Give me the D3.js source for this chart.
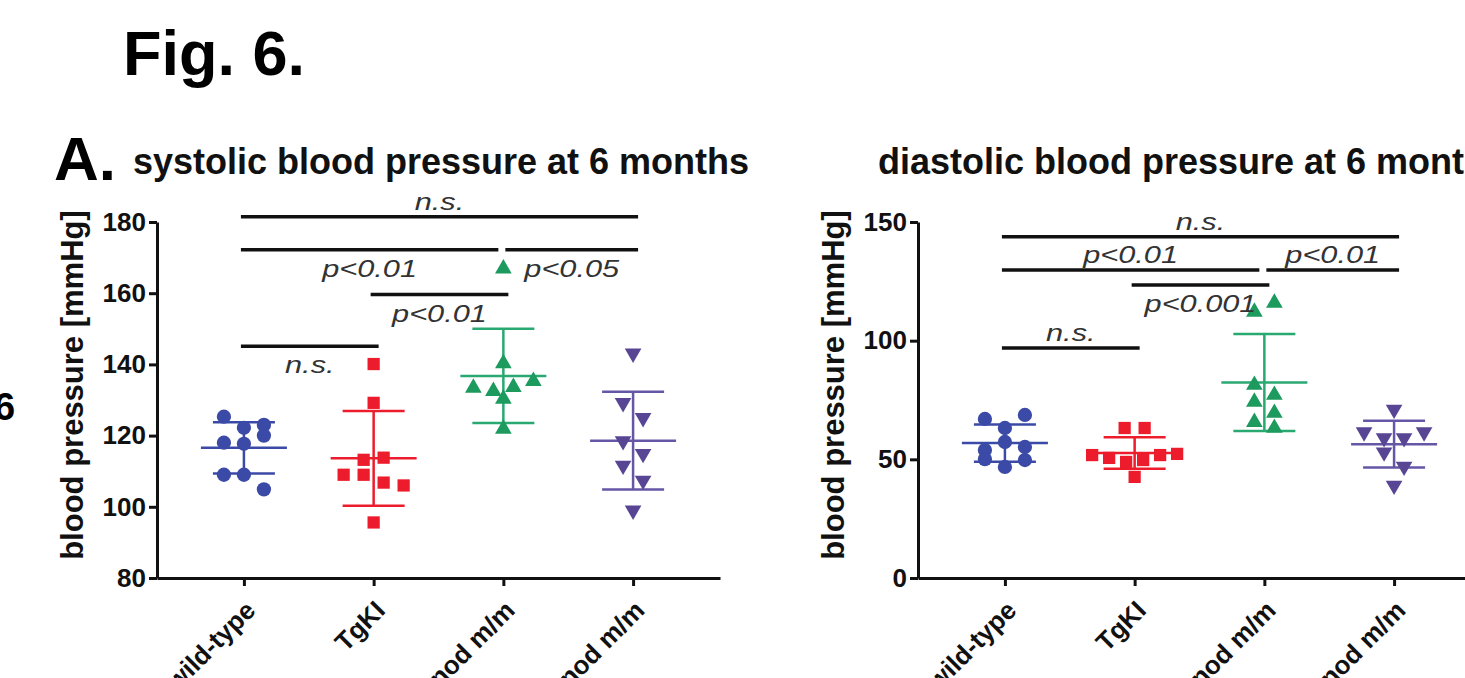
<!DOCTYPE html>
<html><head><meta charset="utf-8">
<script src="https://cdn.jsdelivr.net/npm/d3@7"></script>
<style>
body{margin:0;background:#fff;}
svg{display:block;}
text{font-family:"Liberation Sans", Arial, sans-serif;}
</style>
</head><body>
<svg id="c" width="1465" height="678"></svg>
<script>
// ---------- data ----------
const categories = ["wild-type", "TgKI", "nod m/m", "nod m/m"];

const sysWildType = [125.3, 122.2, 123.0, 118.0, 117.7, 120.0, 109.0, 109.0, 104.9];
const sysTgKI     = [140.1, 129.2, 113.2, 113.8, 109.0, 109.0, 106.8, 106.0, 95.6];
const sysNod      = [166.9, 140.3, 133.4, 132.5, 133.6, 135.3, 130.3, 121.9];
const sysNod2     = [143.1, 129.2, 125.0, 118.5, 114.9, 111.6, 107.4, 99.0];

const diaWildType = [67.0, 63.2, 68.7, 53.9, 50.1, 46.8, 49.7, 57.3, 55.2];
const diaTgKI     = [63.2, 63.2, 51.8, 50.6, 48.9, 49.7, 51.8, 52.3, 42.6];
const diaNod      = [112.1, 115.9, 81.3, 77.1, 74.2, 69.5, 65.7, 63.2];
const diaNod2     = [71.0, 61.5, 59.0, 59.0, 61.5, 53.0, 47.0, 39.0];

const sysTicks = [80, 100, 120, 140, 160, 180];
const diaTicks = [0, 50, 100, 150];

const sysBrackets = [
  {a: 0, b: 3, level: 181.5, label: "n.s.",   pos: "above"},
  {a: 0, b: 2, level: 172.2, label: "p<0.01", pos: "below"},
  {a: 2, b: 3, level: 172.2, label: "p<0.05", pos: "below"},
  {a: 1, b: 2, level: 159.6, label: "p<0.01", pos: "below"},
  {a: 0, b: 1, level: 145.1, label: "n.s.",   pos: "below"}
];
const diaBrackets = [
  {a: 0, b: 3, level: 143.8, label: "n.s.",    pos: "above"},
  {a: 0, b: 2, level: 129.8, label: "p<0.01",  pos: "above"},
  {a: 2, b: 3, level: 129.8, label: "p<0.01",  pos: "above"},
  {a: 1, b: 2, level: 123.5, label: "p<0.001", pos: "below"},
  {a: 0, b: 1, level: 96.9,  label: "n.s.",    pos: "above"}
];

// ---------- styles ----------
const groupStyles = [
  {symbol: d3.symbolCircle,   size: 160, flip: false, fill: "#3b4aa6", line: "#3b4aa6"},
  {symbol: d3.symbolSquare,   size: 150, flip: false, fill: "#ec1c2c", line: "#ec1c2c"},
  {symbol: d3.symbolTriangle, size: 120, flip: false, fill: "#1d9a5e", line: "#2aa872"},
  {symbol: d3.symbolTriangle, size: 120, flip: true,  fill: "#584694", line: "#6656a6"}
];

const svg = d3.select("#c");
svg.append("rect").attr("width", 1465).attr("height", 678).attr("fill", "#fff");

const Y_TOP = 222, Y_BOT = 578, X_LEN = 563;

function rowOffsets(vals, y, thresh, spacing) {
  const pts = vals.map((v, i) => ({v, i, py: y(v)})).sort((a, b) => a.py - b.py);
  const rows = []; let cur = null;
  pts.forEach(p => {
    if (!cur || p.py - cur[0].py > thresh) { cur = [p]; rows.push(cur); }
    else cur.push(p);
  });
  const off = new Array(vals.length);
  rows.forEach(r => {
    r.sort((a, b) => a.i - b.i);
    const sp = r.length > 4 ? spacing * 0.85 : spacing;
    r.forEach((p, k) => { off[p.i] = (k - (r.length - 1) / 2) * sp; });
  });
  return off;
}

function drawPanel(cfg) {
  const g = svg.append("g");
  const x = d3.scalePoint().domain(d3.range(categories.length))
    .range([cfg.x0, cfg.x0 + X_LEN]).padding(0.67);
  const y = d3.scaleLinear().domain(cfg.domain).range([Y_BOT, Y_TOP]);

  // title
  g.append("text").attr("x", cfg.titleX).attr("y", 174)
    .attr("text-anchor", "middle").attr("font-size", 36).attr("font-weight", "bold")
    .attr("fill", "#111").text(cfg.title);

  // y axis title
  g.append("text").attr("transform", `translate(${cfg.x0 - 74},385) rotate(-90)`)
    .attr("text-anchor", "middle").attr("font-size", 31).attr("font-weight", "bold")
    .attr("fill", "#111").text("blood pressure [mmHg]");

  // y axis
  const ya = g.append("g").attr("transform", `translate(${cfg.x0},0)`)
    .call(d3.axisLeft(y).tickValues(cfg.ticks).tickSize(8).tickSizeOuter(0).tickPadding(3));
  ya.select(".domain").attr("stroke", "#111").attr("stroke-width", 3);
  ya.selectAll(".tick line").attr("stroke", "#111").attr("stroke-width", 3);
  ya.selectAll(".tick text").attr("font-size", 26).attr("font-weight", "bold")
    .attr("fill", "#111").attr("font-family", "Liberation Sans, Arial, sans-serif");

  // x axis
  const xa = g.append("g").attr("transform", `translate(0,${Y_BOT})`)
    .call(d3.axisBottom(x).tickSize(8).tickSizeOuter(0).tickFormat(() => ""));
  xa.select(".domain").attr("stroke", "#111").attr("stroke-width", 3);
  xa.selectAll(".tick line").attr("stroke", "#111").attr("stroke-width", 3);

  // category labels
  g.selectAll(".cat").data(categories).join("text")
    .attr("class", "cat")
    .attr("transform", (d, i) => `translate(${x(i) + 13},612) rotate(-45)`)
    .attr("text-anchor", "end").attr("font-size", 26).attr("font-weight", "bold")
    .attr("fill", "#111").text(d => d);

  // groups
  cfg.series.forEach((vals, i) => {
    const st = groupStyles[i];
    const cx = x(i);
    const m = d3.mean(vals), sd = d3.deviation(vals);
    const lg = g.append("g").attr("stroke", st.line).attr("stroke-width", 2.5);
    lg.append("line").attr("x1", cx).attr("x2", cx).attr("y1", y(m - sd)).attr("y2", y(m + sd));
    lg.append("line").attr("x1", cx - 43).attr("x2", cx + 43).attr("y1", y(m)).attr("y2", y(m));
    [m - sd, m + sd].forEach(v =>
      lg.append("line").attr("x1", cx - 31).attr("x2", cx + 31).attr("y1", y(v)).attr("y2", y(v)));
    const off = rowOffsets(vals, y, 16, 20);
    const sym = d3.symbol(st.symbol, st.size);
    g.append("g").selectAll("path").data(vals).join("path")
      .attr("d", sym)
      .attr("transform", (v, k) => `translate(${cx + off[k]},${y(v)})${st.flip ? " rotate(180)" : ""}`)
      .attr("fill", st.fill);
  });

  // significance brackets
  cfg.brackets.forEach(b => {
    const same = cfg.brackets.filter(o => o !== b && o.level === b.level);
    let x1 = x(b.a) - 3, x2 = x(b.b) + 5;
    if (same.some(o => o.a === b.b)) x2 = x(b.b) - 5;
    if (same.some(o => o.b === b.a)) x1 = x(b.a) + 2;
    const yy = y(b.level);
    g.append("line").attr("x1", x1).attr("x2", x2).attr("y1", yy).attr("y2", yy)
      .attr("stroke", "#111").attr("stroke-width", 3.5);
    const ty = b.pos === "above" ? yy - 7 : yy + 27;
    g.append("text").attr("transform", `translate(${(x1 + x2) / 2},${ty}) scale(1.28,1)`)
      .attr("text-anchor", "middle").attr("font-size", 24).attr("font-style", "italic")
      .attr("fill", "#333").text(b.label);
  });
}

// headers
svg.append("text").attr("x", 123).attr("y", 75).attr("font-size", 63)
  .attr("font-weight", "bold").attr("fill", "#000").text("Fig. 6.");
svg.append("text").attr("x", 54).attr("y", 180).attr("font-size", 62)
  .attr("font-weight", "bold").attr("fill", "#000").text("A.");
svg.append("text").attr("x", -6).attr("y", 420).attr("font-size", 38)
  .attr("font-weight", "bold").attr("fill", "#000").text("6");

drawPanel({
  x0: 157, titleX: 441, domain: [80, 180], ticks: sysTicks,
  title: "systolic blood pressure at 6 months",
  series: [sysWildType, sysTgKI, sysNod, sysNod2],
  brackets: sysBrackets
});
drawPanel({
  x0: 918, titleX: 1192, domain: [0, 150], ticks: diaTicks,
  title: "diastolic blood pressure at 6 months",
  series: [diaWildType, diaTgKI, diaNod, diaNod2],
  brackets: diaBrackets
});
</script>
</body></html>
